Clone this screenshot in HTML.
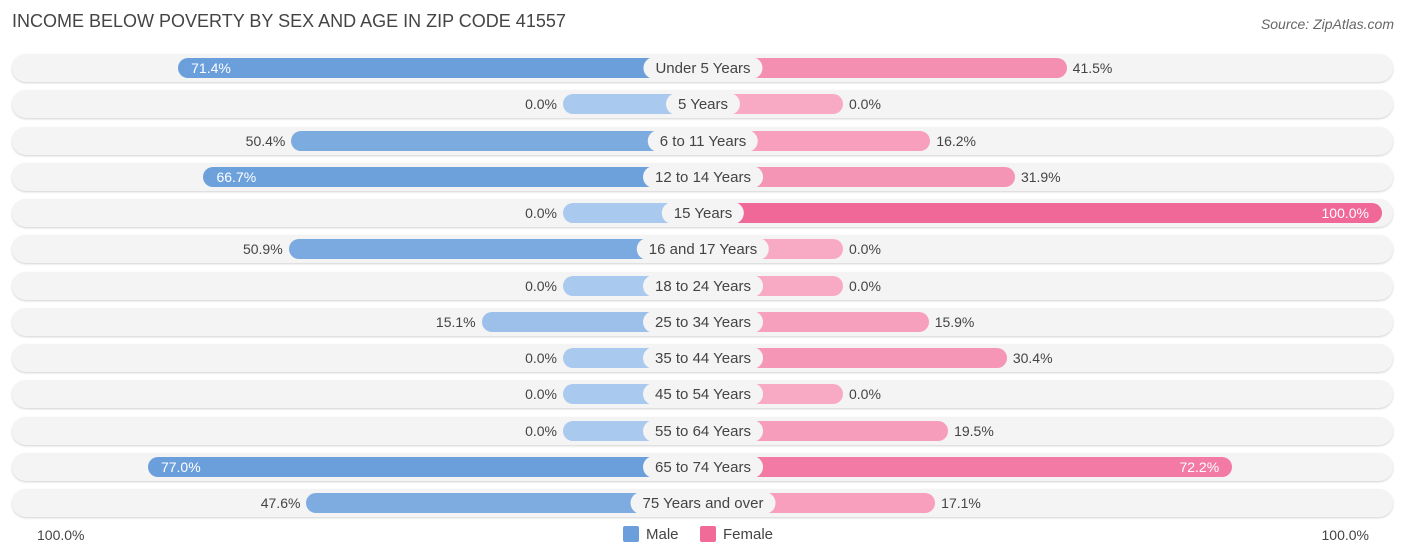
<!DOCTYPE html>
<html><head><meta charset="utf-8"><style>
body{margin:0;width:1406px;height:559px;background:#fff;font-family:"Liberation Sans",sans-serif;position:relative;overflow:hidden}
.t{position:absolute;white-space:nowrap}
</style></head><body>
<div class="t" style="left:12px;top:11px;font-size:18px;color:#444">INCOME BELOW POVERTY BY SEX AND AGE IN ZIP CODE 41557</div>
<div class="t" style="right:12px;top:16px;font-size:14px;color:#666;font-style:italic">Source: ZipAtlas.com</div>
<div id="rows"></div>
<div class="t" style="left:37px;top:527px;font-size:14px;color:#444">100.0%</div>
<div class="t" style="right:37px;top:527px;font-size:14px;color:#444">100.0%</div>
<div style="position:absolute;left:623px;top:526px;font-size:15px;color:#444"><span style="display:inline-block;width:16px;height:16px;background:#6a9fdb;vertical-align:-3px;margin-right:7px;border-radius:2px"></span>Male</div>
<div style="position:absolute;left:700px;top:526px;font-size:15px;color:#444"><span style="display:inline-block;width:16px;height:16px;background:#f06b97;vertical-align:-3px;margin-right:7px;border-radius:2px"></span>Female</div>
<script>
const categories=["Under 5 Years","5 Years","6 to 11 Years","12 to 14 Years","15 Years","16 and 17 Years","18 to 24 Years","25 to 34 Years","35 to 44 Years","45 to 54 Years","55 to 64 Years","65 to 74 Years","75 Years and over"];
const maleValues=[71.4,0,50.4,66.7,0,50.9,0,15.1,0,0,0,77.0,47.6];
const femaleValues=[41.5,0,16.2,31.9,100,0,0,15.9,30.4,0,19.5,72.2,17.1];
const C=703,BASE=140,K=5.39,Y0=68,DY=36.25;
function len(v){return BASE+K*v;}
function mix(a,b,t){return 'rgb('+a.map((x,i)=>Math.round(x+(b[i]-x)*t)).join(',')+')';}
const root=document.getElementById('rows');
categories.forEach((cat,i)=>{
  const y=Y0+i*DY;
  const bg=document.createElement('div');
  
  
  bg.style.cssText=`position:absolute;left:12px;width:1381px;top:${y-14}px;height:28px;border-radius:14px;background:#f4f4f4;box-shadow:0 1px 2px rgba(0,0,0,0.18)`;
  root.appendChild(bg);
  const m=maleValues[i],f=femaleValues[i];
  const ml=len(m),fl=len(f);
  const mb=document.createElement('div');
  
  
  mb.style.cssText=`position:absolute;left:${C-ml}px;width:${ml}px;top:${y-10}px;height:20px;border-radius:10px 0 0 10px;background:${mix([170,201,238],[106,159,219],Math.min(m/70,1))}`;
  root.appendChild(mb);
  const fb=document.createElement('div');
  
  
  fb.style.cssText=`position:absolute;left:${C}px;width:${fl}px;top:${y-10}px;height:20px;border-radius:0 10px 10px 0;background:${mix([248,170,196],[240,104,151],Math.min(f/100,1))}`;
  root.appendChild(fb);
  const ml2=document.createElement('div');
  
  
  ml2.className='t';
  ml2.textContent=m.toFixed(1)+'%';
  if(m>60){ml2.style.cssText=`left:${C-ml+13}px;top:${y-8}px;font-size:14px;color:#fff`;}
  else{ml2.style.cssText=`right:${1406-(C-ml)+6}px;top:${y-8}px;font-size:14px;color:#444`;}
  root.appendChild(ml2);
  const fl2=document.createElement('div');
  
  
  fl2.className='t';
  fl2.textContent=f.toFixed(1)+'%';
  if(f>60){fl2.style.cssText=`right:${1406-(C+fl)+13}px;top:${y-8}px;font-size:14px;color:#fff`;}
  else{fl2.style.cssText=`left:${C+fl+6}px;top:${y-8}px;font-size:14px;color:#444`;}
  root.appendChild(fl2);
  const lab=document.createElement('div');
  
  
  lab.className='t';
  lab.textContent=cat;
  lab.style.cssText=`left:${C}px;top:${y-11}px;transform:translateX(-50%);font-size:15px;color:#444;background:#f4f4f4;border-radius:11px;padding:3px 12px 1px;line-height:18px`;
  root.appendChild(lab);
});
</script>
</body></html>
